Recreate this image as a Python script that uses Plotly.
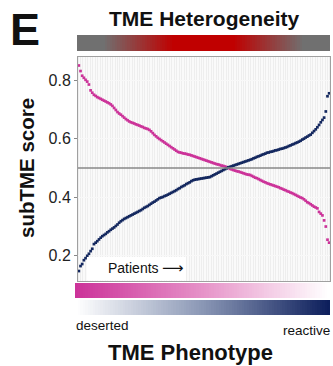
import plotly.graph_objects as go

# ---------------- data ----------------
reactive_score = [
    0.148, 0.165, 0.172, 0.185, 0.192, 0.200, 0.207, 0.216, 0.224, 0.240,
    0.245, 0.250, 0.256, 0.262, 0.267, 0.271, 0.275, 0.280, 0.284, 0.289,
    0.293, 0.297, 0.302, 0.307, 0.313, 0.318, 0.322, 0.326, 0.329, 0.332,
    0.335, 0.338, 0.341, 0.344, 0.347, 0.350, 0.353, 0.356, 0.360, 0.364,
    0.367, 0.370, 0.374, 0.378, 0.382, 0.385, 0.389, 0.393, 0.397, 0.399,
    0.401, 0.404, 0.406, 0.409, 0.412, 0.415, 0.418, 0.421, 0.424, 0.428,
    0.431, 0.435, 0.438, 0.441, 0.445, 0.448, 0.451, 0.455, 0.458, 0.460,
    0.461, 0.462, 0.463, 0.464, 0.465, 0.466, 0.467, 0.468, 0.469, 0.472,
    0.475, 0.478, 0.481, 0.484, 0.487, 0.490, 0.493, 0.496, 0.499, 0.502,
    0.504, 0.506, 0.508, 0.510, 0.512, 0.514, 0.516, 0.518, 0.520, 0.522,
    0.524, 0.526, 0.528, 0.530, 0.533, 0.535, 0.538, 0.540, 0.542, 0.545,
    0.547, 0.549, 0.552, 0.553, 0.555, 0.556, 0.558, 0.560, 0.561, 0.563,
    0.565, 0.566, 0.568, 0.570, 0.572, 0.575, 0.577, 0.580, 0.582, 0.585,
    0.587, 0.590, 0.593, 0.597, 0.600, 0.604, 0.607, 0.611, 0.614, 0.620,
    0.626, 0.632, 0.639, 0.647, 0.656, 0.664, 0.672, 0.693, 0.745, 0.755,
]
deserted_score = [
    0.850, 0.831, 0.815, 0.808, 0.801, 0.795, 0.785, 0.765, 0.757, 0.750,
    0.746, 0.742, 0.739, 0.736, 0.733, 0.730, 0.727, 0.724, 0.721, 0.717,
    0.712, 0.705, 0.698, 0.691, 0.686, 0.682, 0.677, 0.672, 0.667, 0.663,
    0.659, 0.656, 0.654, 0.652, 0.649, 0.647, 0.645, 0.642, 0.640, 0.637,
    0.635, 0.633, 0.630, 0.625, 0.619, 0.613, 0.608, 0.603, 0.599, 0.595,
    0.591, 0.587, 0.583, 0.579, 0.575, 0.571, 0.567, 0.563, 0.559, 0.555,
    0.553, 0.552, 0.550, 0.549, 0.548, 0.546, 0.545, 0.543, 0.541, 0.539,
    0.537, 0.535, 0.533, 0.531, 0.529, 0.527, 0.525, 0.523, 0.521, 0.519,
    0.517, 0.515, 0.513, 0.512, 0.510, 0.508, 0.507, 0.505, 0.503, 0.500,
    0.497, 0.495, 0.493, 0.491, 0.489, 0.488, 0.486, 0.484, 0.482, 0.480,
    0.478, 0.477, 0.476, 0.473, 0.470, 0.467, 0.465, 0.462, 0.459, 0.456,
    0.453, 0.451, 0.448, 0.446, 0.444, 0.442, 0.440, 0.438, 0.436, 0.434,
    0.431, 0.429, 0.426, 0.424, 0.421, 0.419, 0.416, 0.414, 0.411, 0.408,
    0.405, 0.402, 0.399, 0.397, 0.393, 0.388, 0.383, 0.380, 0.376, 0.372,
    0.368, 0.365, 0.362, 0.350, 0.344, 0.338, 0.321, 0.300, 0.255, 0.245,
]
patients = list(range(1, len(reactive_score) + 1))
y_ticks = [0.2, 0.4, 0.6, 0.8]
y_tick_labels = ["0.2", "0.4", "0.6", "0.8"]
threshold = 0.5
ramp = [list(range(101))]

PINK = "#cc3399"
NAVY = "#14285f"
FONT = "Liberation Sans, Arial, sans-serif"

W, H = 333, 366
L, R = 75, 3
PW = W - L - R


def px_x(px):
    return (px - L) / PW


def px_y(py):
    return (H - py) / H


fig = go.Figure()

# main scatter
fig.add_trace(go.Scatter(x=patients, y=deserted_score, mode="markers",
                         marker=dict(symbol="square", size=2.7, color=PINK, line=dict(width=0)),
                         showlegend=False, xaxis="x", yaxis="y"))
fig.add_trace(go.Scatter(x=patients, y=reactive_score, mode="markers",
                         marker=dict(symbol="square", size=2.7, color=NAVY, line=dict(width=0)),
                         showlegend=False, xaxis="x", yaxis="y"))

# gradient bars
fig.add_trace(go.Heatmap(z=ramp, xaxis="x2", yaxis="y2", showscale=False, hoverinfo="skip",
                         colorscale=[[0, "#707070"], [0.1, "#707070"], [0.38, "#c00000"],
                                     [0.62, "#c00000"], [0.9, "#707070"], [1, "#707070"]]))
fig.add_trace(go.Heatmap(z=ramp, xaxis="x3", yaxis="y3", showscale=False, hoverinfo="skip",
                         colorscale=[[0, "#cc3399"], [0.5, "#e692c8"], [1, "#ffffff"]]))
fig.add_trace(go.Heatmap(z=ramp, xaxis="x4", yaxis="y4", showscale=False, hoverinfo="skip",
                         colorscale=[[0, "#ffffff"], [0.5, "#8a97b5"], [1, "#0d1f5c"]]))

hidden = dict(visible=False, fixedrange=True)

fig.update_layout(
    width=W, height=H,
    margin=dict(l=L, r=R, t=0, b=0),
    paper_bgcolor="white",
    plot_bgcolor="#eeeeee",
    font=dict(family=FONT, color="#222"),
    xaxis=dict(domain=[px_x(78), 1], range=[0.5, len(patients) + 0.5],
               showticklabels=False, ticks="", dtick=1, tick0=0.5,
               showgrid=True, gridcolor="#fafafa", gridwidth=1, zeroline=False,
               showline=True, linecolor="#a0a0a0", linewidth=1, mirror=True),
    yaxis=dict(domain=[px_y(281), px_y(57)], range=[0.114, 0.879],
               tickvals=y_ticks, ticktext=y_tick_labels,
               tickfont=dict(size=16, color="#222"), ticks="outside", ticklen=3,
               tickcolor="#888", showgrid=True, gridcolor="#f8f8f8", gridwidth=1,
               zeroline=False, showline=True, linecolor="#a0a0a0", linewidth=1, mirror=True),
    xaxis2=dict(domain=[px_x(77), 1], anchor="y2", **hidden),
    yaxis2=dict(domain=[px_y(51), px_y(35)], anchor="x2", **hidden),
    xaxis3=dict(domain=[0, 1], anchor="y3", **hidden),
    yaxis3=dict(domain=[px_y(298), px_y(283)], anchor="x3", **hidden),
    xaxis4=dict(domain=[0, 1], anchor="y4", **hidden),
    yaxis4=dict(domain=[px_y(315), px_y(300)], anchor="x4", **hidden),
)

fig.add_hline(y=threshold, line=dict(color="#888888", width=1.5), xref="x", yref="y")

# Patients label box
fig.add_shape(type="rect", xref="paper", yref="paper",
              x0=px_x(87), x1=px_x(186), y0=px_y(280.5), y1=px_y(257),
              fillcolor="white", line=dict(width=0), layer="above")

ann = [
    dict(text="<b>E</b>", x=px_x(25), y=px_y(30), size=45),
    dict(text="<b>TME Heterogeneity</b>", x=px_x(204), y=px_y(18), size=21),
    dict(text="<b>TME Phenotype</b>", x=px_x(190), y=px_y(352), size=22),
    dict(text="deserted", x=px_x(102), y=px_y(325), size=13.5),
    dict(text="reactive", x=px_x(306), y=px_y(330), size=13.5),
    dict(text="Patients", x=px_x(133), y=px_y(268), size=14),
]
for a in ann:
    fig.add_annotation(text=a["text"], x=a["x"], y=a["y"], xref="paper", yref="paper",
                       xanchor="center", yanchor="middle", showarrow=False,
                       font=dict(size=a["size"], color="#111", family=FONT))

fig.add_annotation(text="⟶", x=px_x(173), y=px_y(267.5), xref="paper", yref="paper",
                   xanchor="center", yanchor="middle", showarrow=False,
                   font=dict(size=15, color="#111", family="DejaVu Sans"))

fig.add_annotation(text="<b>subTME score</b>", x=px_x(27), y=px_y(168), xref="paper", yref="paper",
                   xanchor="center", yanchor="middle", showarrow=False, textangle=-90,
                   font=dict(size=20.5, color="#111", family=FONT))

fig.write_html("out.html")
